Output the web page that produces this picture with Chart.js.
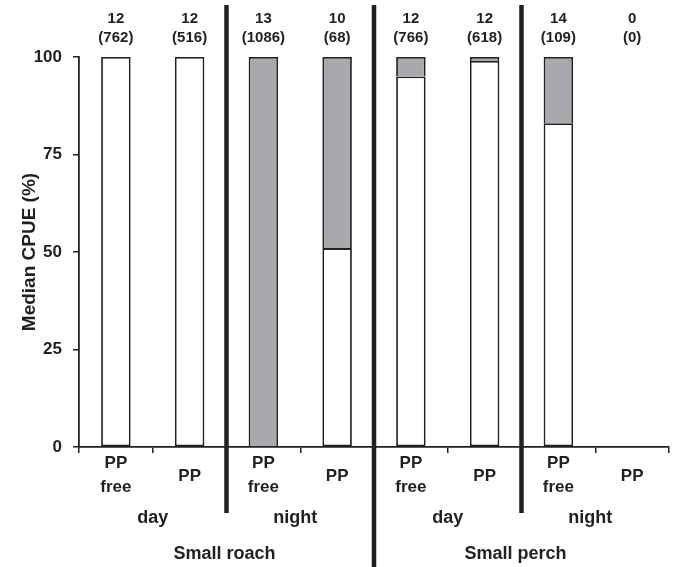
<!DOCTYPE html>
<html lang="en">
<head>
<meta charset="UTF-8">
<title>Median CPUE</title>
<script src="https://cdn.jsdelivr.net/npm/chart.js"></script>
<style>
  body { margin: 0; background: #fff; }
  canvas { display: block; }
</style>
</head>
<body>
<canvas id="myChart" width="673" height="567"></canvas>
<script>
// categories (top line / second line of each x label)
const catTop = ['PP', 'PP', 'PP', 'PP', 'PP', 'PP', 'PP', 'PP'];
const catBottom = ['free', '', 'free', '', 'free', '', 'free', ''];
const timeLabels = ['day', 'night', 'day', 'night'];
const speciesLabels = ['Small roach', 'Small perch'];

// numbers shown above the bars
const nSamples = ['12', '12', '13', '10', '12', '12', '14', '0'];
const nFish = ['(762)', '(516)', '(1086)', '(68)', '(766)', '(618)', '(109)', '(0)'];

// stacked parts of each bar (%)
const whitePart = [100, 100, 0, 51, 95, 99, 83, 0];
const greyPart = [0, 0, 100, 49, 5, 1, 17, 0];

const yTicks = [0, 25, 50, 75, 100];

const ink = '#231f20';
const fontName = "'Liberation Sans', Arial, sans-serif";

// text and separator lines drawn off the x scale
const extras = {
  id: 'extras',
  afterDraw(chart) {
    const c = chart.ctx;
    const x = chart.scales.x;
    const px = i => x.getPixelForValue(i);
    const between = i => (px(i) + px(i + 1)) / 2;

    c.save();
    c.fillStyle = ink;
    c.textAlign = 'center';
    c.textBaseline = 'middle';

    // counts above bars
    c.font = 'bold 15px ' + fontName;
    for (let i = 0; i < nSamples.length; i++) {
      c.fillText(nSamples[i], px(i), 19);
      c.fillText(nFish[i], px(i), 38);
    }

    // category labels
    c.font = 'bold 17px ' + fontName;
    for (let i = 0; i < catTop.length; i++) {
      if (catBottom[i]) {
        c.fillText(catTop[i], px(i), 463);
        c.fillText(catBottom[i], px(i), 487);
      } else {
        c.fillText(catTop[i], px(i), 476);
      }
    }

    // day / night under each pair
    c.font = 'bold 18px ' + fontName;
    for (let k = 0; k < timeLabels.length; k++) {
      const off = timeLabels[k] === 'night' ? -5 : 0;
      c.fillText(timeLabels[k], between(2 * k) + off, 518);
    }

    // species
    c.fillText(speciesLabels[0], between(1) - 2, 554);
    c.fillText(speciesLabels[1], between(5) - 6, 554);

    // thick separators
    c.strokeStyle = ink;
    c.lineWidth = 4.5;
    c.beginPath();
    c.moveTo(between(1), 5); c.lineTo(between(1), 513);
    c.moveTo(between(3), 5); c.lineTo(between(3), 567);
    c.moveTo(between(5), 5); c.lineTo(between(5), 513);
    c.stroke();
    c.restore();
  }
};

new Chart(document.getElementById('myChart'), {
  type: 'bar',
  data: {
    labels: catTop.map((t, i) => t + ' ' + catBottom[i]),
    datasets: [
      {
        label: 'white',
        data: whitePart,
        backgroundColor: '#ffffff',
        borderColor: ink,
        borderWidth: 1.8,
        borderSkipped: false
      },
      {
        label: 'grey',
        data: greyPart,
        backgroundColor: '#a7a9ac',
        borderColor: ink,
        borderWidth: 1.8,
        borderSkipped: 'bottom'
      }
    ]
  },
  options: {
    responsive: false,
    animation: false,
    layout: { padding: { top: 57, right: 4, left: 0, bottom: 0 } },
    datasets: { bar: { categoryPercentage: 1, barPercentage: 0.4 } },
    plugins: {
      legend: { display: false },
      tooltip: { enabled: false }
    },
    scales: {
      x: {
        stacked: true,
        afterFit(s) { s.height = 120; },
        ticks: { display: false },
        grid: {
          offset: true,
          drawOnChartArea: false,
          drawTicks: true,
          tickLength: 6,
          color: ink,
          lineWidth: 1.5
        },
        border: { display: true, color: ink, width: 1.8 }
      },
      y: {
        stacked: true,
        min: 0,
        max: 100,
        afterFit(s) { s.width = 79; },
        afterBuildTicks(s) { s.ticks = yTicks.map(v => ({ value: v })); },
        ticks: {
          color: ink,
          padding: 11,
          font: { family: fontName, size: 17, weight: 'bold' }
        },
        grid: {
          drawOnChartArea: false,
          drawTicks: true,
          tickLength: 6,
          color: ink,
          lineWidth: 1.5
        },
        border: { display: true, color: ink, width: 1.8 },
        title: {
          display: true,
          text: 'Median CPUE (%)',
          color: ink,
          padding: { top: 18, bottom: 0 },
          font: { family: fontName, size: 19, weight: 'bold' }
        }
      }
    }
  },
  plugins: [extras]
});
</script>
</body>
</html>
